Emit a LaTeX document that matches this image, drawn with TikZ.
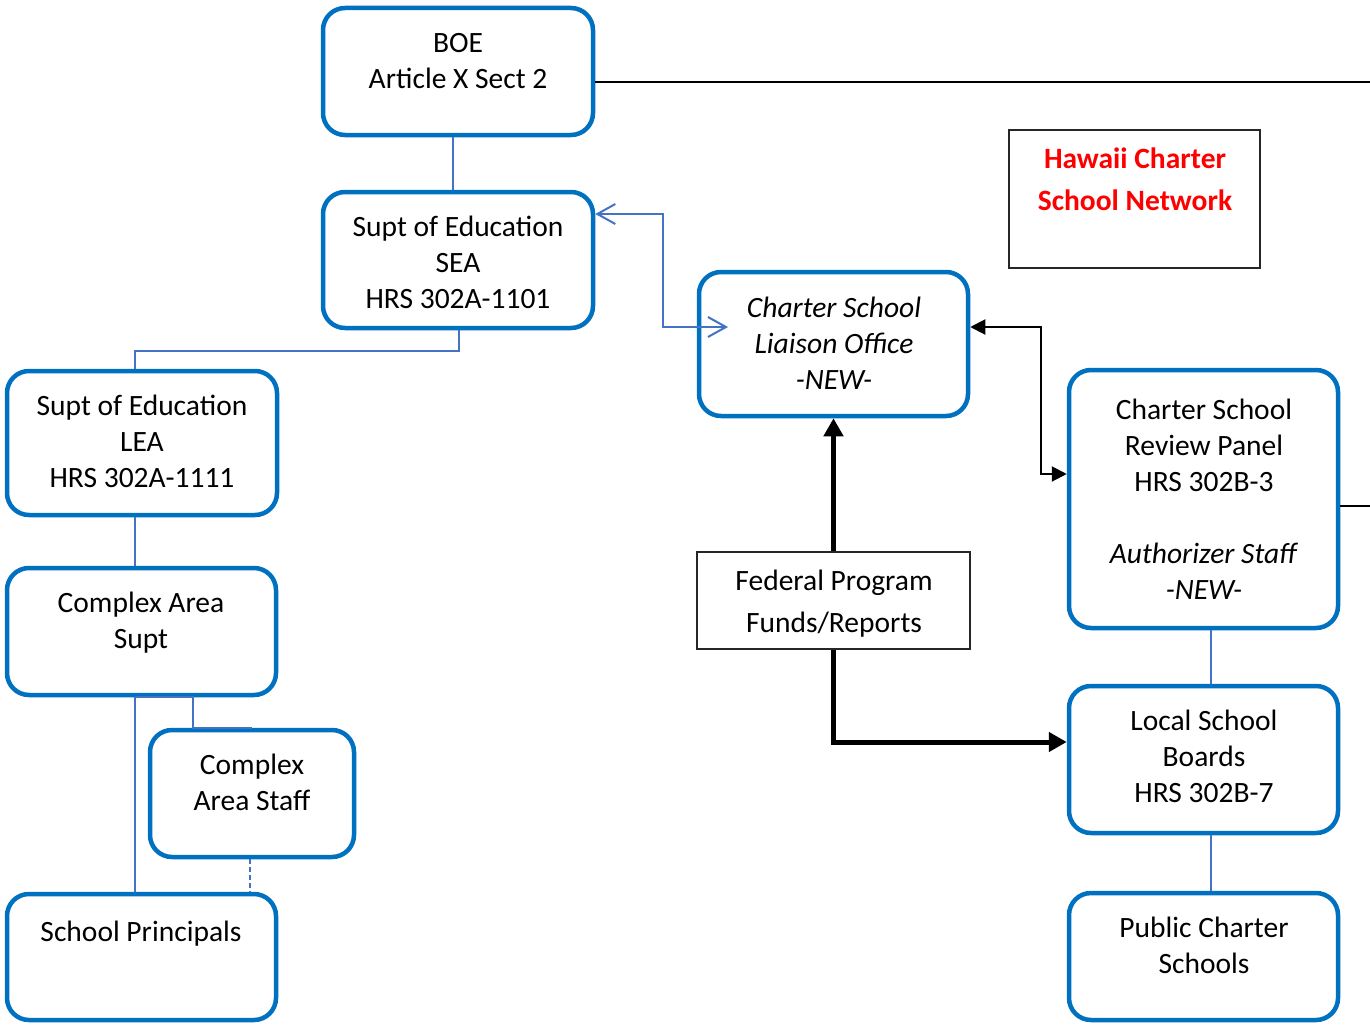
\documentclass[tikz,border=0pt]{standalone}
\usepackage{fontspec}
\setmainfont{Carlito}
\usetikzlibrary{arrows.meta}
\definecolor{boxblue}{HTML}{0070C0}
\definecolor{connblue}{HTML}{4472C4}
\definecolor{hred}{HTML}{FF0000}
\tikzset{
  cbox/.style={draw=boxblue, line width=4.5pt, rounded corners=22pt, fill=white, inner sep=0pt},
  pbox/.style={draw=black!85, line width=1.8pt, fill=white, inner sep=0pt},
  txt/.style={align=center, font=\fontsize{29.5}{36}\selectfont, inner sep=0pt,
              execute at begin node=\strut, execute at end node=\strut},
  conn/.style={draw=connblue, line width=2pt},
  bconn/.style={draw=black, line width=2pt},
  thickarr/.style={draw=black, line width=5pt, -{Triangle[length=18pt,width=19pt]}},
}
\begin{document}
\begin{tikzpicture}[x=1pt,y=-1pt]
\useasboundingbox (0,0) rectangle (1370,1025);
% boxes
\node[cbox, minimum width=270pt, minimum height=127pt] (boe) at (458,71.5) {};
\node[cbox, minimum width=270pt, minimum height=136pt] (sea) at (458,260) {};
\node[cbox, minimum width=269pt, minimum height=144pt] (liaison) at (833.5,344) {};
\node[cbox, minimum width=270pt, minimum height=144pt] (lea) at (142,443) {};
\node[cbox, minimum width=269pt, minimum height=127pt] (cas) at (141.5,631.5) {};
\node[cbox, minimum width=204pt, minimum height=127pt] (staff) at (252,793.5) {};
\node[cbox, minimum width=269pt, minimum height=126pt] (princ) at (141.5,957) {};
\node[cbox, minimum width=269pt, minimum height=258pt] (panel) at (1203.5,499) {};
\node[cbox, minimum width=269pt, minimum height=147pt] (local) at (1203.5,759.5) {};
\node[cbox, minimum width=269pt, minimum height=127pt] (public) at (1203.5,956.5) {};
\node[pbox, minimum width=273pt, minimum height=97pt] (fed) at (833.5,600.5) {};
\node[pbox, minimum width=251pt, minimum height=138pt] (hcsn) at (1134.5,199) {};
% free ends
\coordinate (e1) at (1370,82);
\coordinate (e2) at (1370,506);
\coordinate (la) at (728,327);
% texts
\node[txt] (tboe) at (458,66) {BOE\\Article X Sect 2};
\node[txt] (tsea) at (458,268) {Supt of Education\\SEA\\HRS 302A-1101};
\node[txt, font=\fontsize{29.5}{36}\selectfont\itshape] (tliaison) at (834,348.5) {Charter School\\Liaison Office\\-NEW-};
\node[txt] (tlea) at (142,447) {Supt of Education\\LEA\\HRS 302A-1111};
\node[txt] (tcas) at (141,625.5) {Complex Area\\Supt};
\node[txt] (tstaff) at (252,788) {Complex\\Area Staff};
\node[txt] (tprinc) at (141,934) {School Principals};
\node[txt] (tpanel) at (1204,505) {Charter School\\Review Panel\\HRS 302B-3\\ \strut\\ \textit{Authorizer Staff}\\ \textit{-NEW-}};
\node[txt] (tlocal) at (1204,762) {Local School\\Boards\\HRS 302B-7};
\node[txt] (tpublic) at (1204,951) {Public Charter\\Schools};
\node[txt, font=\fontsize{29.5}{42}\selectfont] (tfed) at (834,608) {Federal Program\\Funds/Reports};
\node[txt, font=\fontsize{29.5}{42}\selectfont\bfseries, text=hred] (thcsn) at (1135,185) {Hawaii Charter\\School Network};
% connectors
\draw[bconn] (boe.east |- e1) -- (e1);
\draw[bconn] (panel.east |- e2) -- (e2);
\draw[conn] ([xshift=-5pt]boe.south) -- ([xshift=-5pt]sea.north);
\draw[conn] ([xshift=1pt]sea.south) -- ++(0,21) -| ([xshift=-7pt]lea.north);
\draw[conn] ([xshift=-7pt]lea.south) -- ([xshift=-6.5pt]cas.north);
\draw[conn] ([xshift=-6.5pt]cas.south) -- ([xshift=-6.5pt]princ.north);
\draw[conn] ([xshift=-6.5pt]cas.south) -- ([xshift=51.5pt]cas.south) |- (staff.north);
\draw[conn, dashed, dash pattern=on 5pt off 3pt] ([xshift=-2pt]staff.south) -- ([xshift=-2pt]staff.south |- princ.north);
\draw[conn] ([xshift=7.5pt]panel.south) -- ([xshift=7.5pt]local.north);
\draw[conn] ([xshift=7.5pt]local.south) -- ([xshift=7.5pt]public.north);
\draw[conn, {Straight Barb[length=18pt,width=20pt]}-{Straight Barb[length=18pt,width=20pt]}] (sea.east |- 0,214) -- (663,214) -- (663,327) -- (la);
\draw[bconn, {Triangle[length=15pt,width=15pt]}-{Triangle[length=15pt,width=15pt]}] (liaison.east |- 0,327) -- (1041,327) -- (1041,474) -- (panel.west |- 0,474);
\draw[thickarr] (fed.north) -- (fed.north |- liaison.south);
\draw[thickarr] (fed.south) |- (local.west |- 0,742);
\end{tikzpicture}
\end{document}
